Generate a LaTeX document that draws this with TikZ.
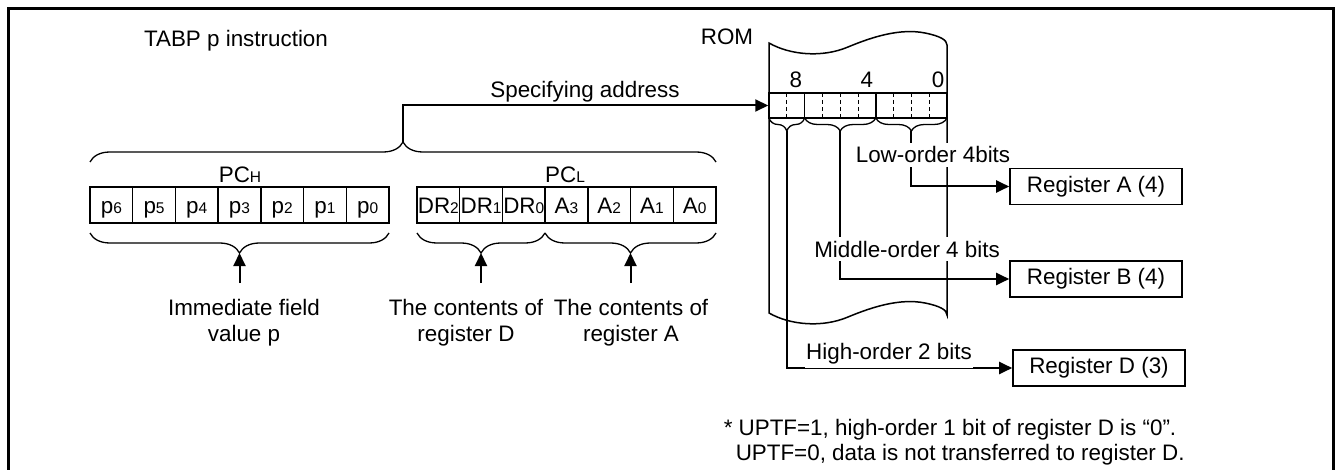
\documentclass[tikz,border=0pt]{standalone}
\usepackage{fontspec}
\setmainfont{Liberation Sans}
\usetikzlibrary{arrows.meta,decorations.pathreplacing}
\newcommand{\sm}[1]{{\fontsize{15.5}{16}\selectfont #1}}
\begin{document}
\begin{tikzpicture}[x=1pt,y=-1pt,line width=1.5pt,
  every node/.style={font=\fontsize{22.4}{26}\selectfont, inner sep=0pt},
  txt/.style={anchor=base},
  lbl/.style={anchor=base, fill=white, inner xsep=1pt, inner ysep=4pt},
  cell/.style={draw, minimum width=42.714pt, minimum height=36pt, inner sep=0pt, text height=18pt, text depth=0pt},
  reg/.style={draw, minimum width=172pt, minimum height=36pt, line width=1.6pt},
  arr/.style={-{Triangle[length=13pt,width=12pt]}, line width=2pt},
  brc/.style={decorate, decoration={brace, amplitude=#1}, line width=1.3pt},
  dsh/.style={dash pattern=on 4pt off 3pt, line width=1pt}
]
\useasboundingbox (0,0) rectangle (1337,470);
% outer frame
\draw[line width=3pt] (8,480) -- (8,8.5) -- (1333.5,8.5) -- (1333.5,480);

% titles
\node[txt] (title) at (236,47) {TABP p instruction};
\node[txt] (romtitle) at (727,45) {ROM};

% PC_H cells
\foreach \t [count=\i] in {p\sm{6},p\sm{5},p\sm{4},p\sm{3},p\sm{2},p\sm{1},p\sm{0}}
  \node[cell] (h\i) at ({90+42.714*(\i-0.5)},205) {\t};
% PC_L cells
\foreach \t [count=\i] in {DR\sm{2},DR\sm{1},DR\sm{0},A\sm{3},A\sm{2},A\sm{1},A\sm{0}}
  \node[cell] (l\i) at ({417+42.714*(\i-0.5)},205) {\t};

\node[txt] (pch) at (240,183) {PC\sm{H}};
\node[txt] (pcl) at (565,183) {PC\sm{L}};

% ROM outline
\draw (769,43) .. controls (790,55) and (822,58) .. (848,47)
  .. controls (872,37) and (900,28) .. (925,33)
  .. controls (940,36) and (947,40) .. (947,45) -- (947,315)
  .. controls (947,310) and (940,306) .. (925,303)
  .. controls (900,298) and (872,307) .. (848,317)
  .. controls (822,328) and (790,325) .. (769,313) -- cycle;

% ROM bit row
\node[draw, minimum width=178pt, minimum height=25pt, inner sep=0pt] (romrow) at (858,105.5) {};
\foreach \x in {804.6,875.8} \draw (\x,93) -- (\x,118);
\foreach \x in {786.8,822.4,840.2,858,893.6,911.4,929.2} \draw[dsh] (\x,93) -- (\x,118);
\node[txt] (b8) at (795.9,88) {8};
\node[txt] (b4) at (866.9,88) {4};
\node[txt] (b0) at (938.1,88) {0};

% braces
\draw[brc=20pt] (90,162) -- (716,162);
\coordinate (tTop) at (403,142);
\draw[brc=20pt] (389,233) -- (90,233);
\draw[brc=20pt] (545,233) -- (417,233);
\draw[brc=20pt] (716,233) -- (545,233);
\coordinate (tH) at (239.5,253);
\coordinate (tD) at (481,253);
\coordinate (tA) at (630.5,253);
\coordinate (sH) at (239.5,283);
\coordinate (sD) at (481,283);
\coordinate (sA) at (630.5,283);
\draw[brc=13pt] (804.6,118) -- (769,118);
\draw[brc=13pt] (875.8,118) -- (804.6,118);
\draw[brc=13pt] (947,118) -- (875.8,118);
\coordinate (rH) at (786.8,131);
\coordinate (rM) at (840.2,131);
\coordinate (rL) at (911.4,131);

% registers
\node[reg] (regA) at (1096,186.5) {Register A (4)};
\node[reg] (regB) at (1096,279) {Register B (4)};
\node[reg] (regD) at (1099,368) {Register D (3)};

% connectors
\draw[arr] (tTop) |- (romrow.west);
\draw[arr] (sH) -- (tH);
\draw[arr] (sD) -- (tD);
\draw[arr] (sA) -- (tA);
\draw[arr] (rL) |- (regA.west);
\draw[arr] (rM) |- (regB.west);
\draw[arr] (rH) |- (regD.west);

% labels
\node[txt] (spec) at (585,98) {Specifying address};
\node[lbl] (low) at (933,163) {Low-order 4bits};
\node[lbl] (mid) at (907,257) {Middle-order 4 bits};
\node[lbl] (high) at (889,359) {High-order 2 bits};

\node[txt] (imm1) at (244,315) {Immediate field};
\node[txt] (imm2) at (244,341) {value p};
\node[txt] (cd1) at (466,315) {The contents of};
\node[txt] (cd2) at (466,341) {register D};
\node[txt] (ca1) at (631,315) {The contents of};
\node[txt] (ca2) at (631,341) {register A};

\node[txt, anchor=base west] (note1) at (723,435) {* UPTF=1, high-order 1 bit of register D is “0”.};
\node[txt, anchor=base west] (note2) at (735,460) {UPTF=0, data is not transferred to register D.};
\end{tikzpicture}
\end{document}
